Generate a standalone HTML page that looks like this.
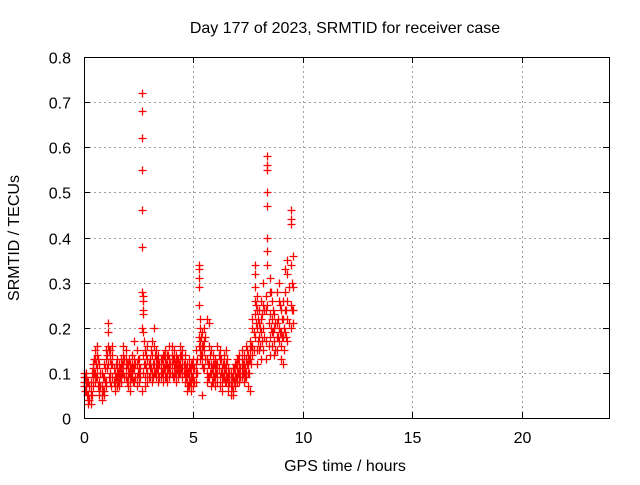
<!DOCTYPE html>
<html><head><meta charset="utf-8"><style>
body{margin:0;background:#fff}
svg text{font-family:"Liberation Sans",sans-serif;font-size:16px;fill:#000}
</style></head><body>
<svg id="chart" width="640" height="480" xmlns="http://www.w3.org/2000/svg">
<rect width="640" height="480" fill="#fff"/>
<g id="grid"></g>
<g id="ticks"></g>
<g id="points"></g>
<rect x="84.5" y="57.5" width="525" height="361" fill="none" stroke="#000" stroke-width="1"/>
<text x="345" y="33" text-anchor="middle">Day 177 of 2023, SRMTID for receiver case</text>
<text x="345" y="471" text-anchor="middle">GPS time / hours</text>
<text transform="translate(19,238) rotate(-90)" text-anchor="middle">SRMTID / TECUs</text>
</svg>
<script>
const xTicks=[0,5,10,15,20];
const yTicks=[0,0.1,0.2,0.3,0.4,0.5,0.6,0.7,0.8];
const yTickLabels=["0","0.1","0.2","0.3","0.4","0.5","0.6","0.7","0.8"];
const times=[0.0,0.1,0.2,0.3,0.4,0.5,0.6,0.7,0.8,0.9,1.0,1.1,1.2,1.3,1.4,1.5,1.6,1.7,1.8,1.9,2.0,2.1,2.2,2.3,2.4,2.5,2.65,2.7,2.8,2.9,3.0,3.1,3.2,3.3,3.4,3.5,3.6,3.7,3.8,3.9,4.0,4.1,4.2,4.3,4.4,4.5,4.6,4.7,4.8,4.9,5.0,5.1,5.25,5.3,5.4,5.5,5.6,5.7,5.8,5.9,6.0,6.1,6.2,6.3,6.4,6.5,6.6,6.7,6.8,6.9,7.0,7.1,7.2,7.3,7.4,7.5,7.6,7.7,7.8,7.9,8.0,8.1,8.2,8.3,8.38,8.5,8.6,8.7,8.8,8.9,9.0,9.1,9.2,9.3,9.45,9.55];
const srmtid=[
[0.10,0.08,0.09,0.07],[0.07,0.09,0.06,0.10],[0.05,0.04,0.08,0.03],[0.03,0.06,0.05,0.08],[0.09,0.11,0.07,0.12],
[0.13,0.15,0.10,0.08],[0.14,0.16,0.11,0.09],[0.06,0.08,0.12,0.05],[0.05,0.07,0.10,0.04],[0.06,0.09,0.12,0.05],
[0.08,0.13,0.15,0.07],[0.21,0.19,0.16,0.12],[0.13,0.10,0.08,0.15],[0.14,0.12,0.09,0.16],[0.08,0.07,0.10,0.06],
[0.09,0.11,0.07,0.13],[0.10,0.08,0.12,0.07],[0.09,0.11,0.13,0.08],[0.12,0.14,0.16,0.10],[0.15,0.13,0.11,0.09],
[0.09,0.07,0.11,0.12],[0.08,0.10,0.06,0.12],[0.10,0.12,0.14,0.09],[0.11,0.17,0.13,0.08],[0.09,0.07,0.12,0.15],
[0.13,0.10,0.08,0.11],[0.72,0.68,0.62,0.55,0.46,0.38,0.28,0.20,0.06],[0.27,0.26,0.24,0.23,0.19,0.14,0.10],
[0.12,0.09,0.15,0.07],[0.10,0.13,0.16,0.08],[0.09,0.11,0.13,0.12],[0.14,0.17,0.10,0.08],[0.10,0.20,0.16,0.12],
[0.13,0.15,0.11,0.09],[0.10,0.12,0.08,0.14],[0.11,0.09,0.13,0.10],[0.12,0.10,0.14,0.08],[0.09,0.11,0.13,0.15],
[0.10,0.12,0.08,0.14],[0.13,0.11,0.16,0.09],[0.16,0.14,0.12,0.10],[0.11,0.13,0.09,0.15],[0.10,0.12,0.14,0.08],
[0.09,0.11,0.13,0.10],[0.12,0.14,0.10,0.16],[0.13,0.11,0.15,0.09],[0.10,0.12,0.08,0.14],[0.08,0.06,0.10,0.12],
[0.11,0.09,0.13,0.07],[0.10,0.08,0.12,0.06],[0.09,0.11,0.07,0.13],[0.10,0.12,0.08,0.15],
[0.34,0.33,0.31,0.29,0.25,0.18,0.16],[0.22,0.20,0.17,0.15,0.13],[0.19,0.16,0.14,0.12,0.05],[0.20,0.17,0.15,0.11],
[0.22,0.13,0.10,0.08],[0.21,0.16,0.12,0.09],[0.15,0.12,0.10,0.07],[0.14,0.10,0.08,0.12],[0.13,0.11,0.09,0.07],
[0.12,0.16,0.10,0.08],[0.15,0.13,0.09,0.07],[0.11,0.08,0.10,0.06],[0.12,0.09,0.14,0.10],[0.10,0.08,0.12,0.15],
[0.07,0.09,0.06,0.11],[0.08,0.05,0.10,0.07],[0.09,0.06,0.11,0.05],[0.10,0.07,0.12,0.08],[0.11,0.08,0.13,0.09],
[0.12,0.10,0.14,0.08],[0.11,0.13,0.09,0.15],[0.12,0.10,0.14,0.08],[0.10,0.13,0.09,0.16],[0.14,0.12,0.10,0.07],
[0.17,0.15,0.13,0.06],[0.22,0.20,0.16,0.14],[0.34,0.32,0.29,0.26,0.23,0.18],[0.27,0.24,0.20,0.15,0.12],
[0.24,0.21,0.18,0.15],[0.26,0.22,0.19,0.13],[0.30,0.25,0.20,0.15],[0.27,0.24,0.17,0.13],
[0.58,0.56,0.55,0.50,0.47,0.40,0.37,0.34,0.25],[0.31,0.28,0.23,0.18,0.14],[0.26,0.22,0.19,0.16],
[0.23,0.20,0.17,0.14],[0.28,0.21,0.18,0.15],[0.30,0.26,0.20,0.17],[0.24,0.19,0.16,0.13],[0.26,0.22,0.18,0.12],
[0.33,0.28,0.24,0.19],[0.35,0.32,0.26,0.22,0.17],[0.46,0.44,0.43,0.34,0.25,0.20],[0.36,0.29,0.24,0.21]
];
const times2=[0.05,0.15,0.25,0.35,0.45,0.55,0.65,0.75,0.85,0.95,1.05,1.15,1.25,1.35,1.45,1.55,1.65,1.75,1.85,1.95,2.05,2.15,2.25,2.35,2.45,2.55,2.75,2.85,2.95,3.05,3.15,3.25,3.35,3.45,3.55,3.65,3.75,3.85,3.95,4.05,4.15,4.25,4.35,4.45,4.55,4.65,4.75,4.85,4.95,5.05,5.15,5.35,5.45,5.55,5.65,5.75,5.85,5.95,6.05,6.15,6.25,6.35,6.45,6.55,6.65,6.75,6.85,6.95,7.05,7.15,7.25,7.35,7.45,7.55,7.65,7.75,7.85,7.95,8.05,8.15,8.25,8.45,8.55,8.65,8.75,8.85,8.95,9.05,9.15,9.25,9.35,9.5];
const srmtid2=[
[0.09,0.06],[0.08,0.05],[0.04,0.07],[0.05,0.10],[0.10,0.13],[0.12,0.09],[0.13,0.07],[0.07,0.10],[0.06,0.09],[0.08,0.11],
[0.11,0.14],[0.15,0.09],[0.12,0.07],[0.11,0.08],[0.09,0.12],[0.10,0.08],[0.11,0.09],[0.10,0.12],[0.13,0.09],[0.12,0.08],
[0.10,0.13],[0.09,0.11],[0.11,0.08],[0.12,0.09],[0.10,0.13],[0.11,0.09],[0.17,0.12],[0.11,0.14],[0.12,0.09],[0.11,0.15],
[0.12,0.09],[0.14,0.10],[0.11,0.13],[0.12,0.09],[0.10,0.13],[0.11,0.14],[0.12,0.09],[0.11,0.14],[0.10,0.12],[0.13,0.09],
[0.12,0.10],[0.11,0.13],[0.10,0.12],[0.11,0.14],[0.12,0.10],[0.09,0.11],[0.10,0.07],[0.08,0.11],[0.09,0.12],[0.11,0.08],
[0.13,0.10],[0.18,0.14],[0.16,0.11],[0.18,0.13],[0.12,0.09],[0.14,0.10],[0.11,0.08],[0.12,0.09],[0.10,0.12],[0.11,0.14],
[0.10,0.13],[0.09,0.12],[0.11,0.08],[0.09,0.13],[0.08,0.10],[0.07,0.09],[0.08,0.11],[0.09,0.12],[0.10,0.13],[0.11,0.09],
[0.12,0.10],[0.11,0.09],[0.12,0.15],[0.13,0.10],[0.16,0.12],[0.19,0.15],[0.25,0.21],[0.22,0.17],[0.20,0.16],[0.23,0.17],
[0.24,0.18],[0.21,0.16],[0.28,0.20],[0.24,0.19],[0.21,0.15],[0.22,0.18],[0.25,0.19],[0.22,0.18],[0.20,0.15],[0.24,0.18],
[0.29,0.21],[0.30,0.24]
];
const NS="http://www.w3.org/2000/svg";
const X0=84,X1=609,Y0=418,Y1=57,XMAX=24,YMAX=0.8;
function xs(v){return X0+(X1-X0)*v/XMAX;}
function ys(v){return Y0-(Y0-Y1)*v/YMAX;}
function mk(tag,attrs,parent){const e=document.createElementNS(NS,tag);for(const k in attrs)e.setAttribute(k,attrs[k]);parent.appendChild(e);return e;}
const grid=document.getElementById('grid'),ticks=document.getElementById('ticks'),pts=document.getElementById('points');
xTicks.forEach((t,i)=>{
  const x=Math.round(xs(t))+0.5;
  if(t>0){const g=mk('line',{x1:x,y1:Y0,x2:x,y2:Y1,stroke:'#a0a0a0','stroke-dasharray':'2,3'},grid);
  
  }
  const a=mk('line',{x1:x,y1:Y0,x2:x,y2:Y0-6,stroke:'#000'},ticks);
  
  
  const b=mk('line',{x1:x,y1:Y1,x2:x,y2:Y1+6,stroke:'#000'},ticks);
  
  
  const tx=mk('text',{x:x,y:443,'text-anchor':'middle'},ticks);tx.textContent=String(t);
  
  
});
yTicks.forEach((t,i)=>{
  const y=Math.round(ys(t))+0.5;
  if(t>0&&t<YMAX){const g=mk('line',{x1:X0,y1:y,x2:X1,y2:y,stroke:'#a0a0a0','stroke-dasharray':'2,3'},grid);
  
  }
  const a=mk('line',{x1:X0,y1:y,x2:X0+6,y2:y,stroke:'#000'},ticks);
  
  
  const b=mk('line',{x1:X1,y1:y,x2:X1-6,y2:y,stroke:'#000'},ticks);
  
  
  const tx=mk('text',{x:71,y:y+6,'text-anchor':'end'},ticks);tx.textContent=yTickLabels[i];
  
  
});
function drawSeries(ts,vs){
  ts.forEach((t,i)=>{
    vs[i].forEach(v=>{
      const x=Math.round(xs(t))+0.5,y=Math.round(ys(v))+0.5;
      const p=mk('path',{d:`M${x-4},${y}h8M${x},${y-4}v8`,stroke:'#ff0000','stroke-width':1.3,fill:'none'},pts);
      
      
    });
  });
}
drawSeries(times,srmtid);
drawSeries(times2,srmtid2);
</script>
</body></html>
